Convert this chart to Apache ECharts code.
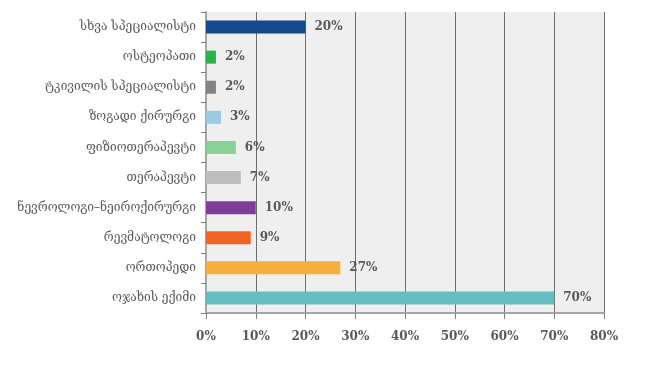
<!DOCTYPE html>
<html>
<head>
<meta charset="utf-8">
<script src="https://cdn.jsdelivr.net/npm/echarts@6/dist/echarts.min.js"></script>
<style>
  html, body { margin: 0; padding: 0; background: #fff; }
  #chart { width: 650px; height: 376px; }
</style>
</head>
<body>
<div id="chart"></div>
<script>
// categories, top to bottom
const categories = [
  "სხვა სპეციალისტი",
  "ოსტეოპათი",
  "ტკივილის სპეციალისტი",
  "ზოგადი ქირურგი",
  "ფიზიოთერაპევტი",
  "თერაპევტი",
  "ნევროლოგი–ნეიროქირურგი",
  "რევმატოლოგი",
  "ორთოპედი",
  "ოჯახის ექიმი"
];
const values = [20, 2, 2, 3, 6, 7, 10, 9, 27, 70];
const barColors = [
  "#174a8c", "#2bb34b", "#818386", "#9cc9e3", "#88d29a",
  "#bcbdbf", "#7e3e97", "#f06424", "#f9ae40", "#66bdc1"
];

const chart = echarts.init(document.getElementById("chart"));
const labelFont = "DejaVu Serif";

chart.setOption({
  animation: false,
  grid: {
    left: 206, right: 46, top: 12, bottom: 63,
    show: true,
    backgroundColor: "#efefef",
    borderWidth: 0
  },
  xAxis: {
    type: "value",
    min: 0,
    max: 80,
    interval: 10,
    axisLine: { show: true, lineStyle: { color: "#a6a6a6", width: 2 } },
    axisTick: { show: true, length: 6, lineStyle: { color: "#808080" } },
    axisLabel: {
      formatter: "{value}%",
      color: "#595959",
      fontFamily: labelFont,
      fontWeight: "bold",
      fontSize: 12,
      margin: 18
    },
    splitLine: { show: true, lineStyle: { color: "#6f6f6f", width: 1 } }
  },
  yAxis: {
    type: "category",
    data: categories,
    inverse: true,
    axisLine: { show: true, lineStyle: { color: "#a6a6a6", width: 2 } },
    axisTick: { show: true, length: 5, lineStyle: { color: "#808080" } },
    axisLabel: {
      color: "#5a5a5a",
      fontFamily: labelFont,
      fontSize: 12,
      margin: 10
    },
    splitLine: { show: false }
  },
  series: [{
    type: "bar",
    data: values.map((v, i) => ({ value: v, itemStyle: { color: barColors[i] } })),
    barWidth: 13,
    label: {
      show: true,
      position: "right",
      distance: 9,
      formatter: "{c}%",
      color: "#595959",
      fontFamily: labelFont,
      fontWeight: "bold",
      fontSize: 12
    }
  }]
});
</script>
</body>
</html>
